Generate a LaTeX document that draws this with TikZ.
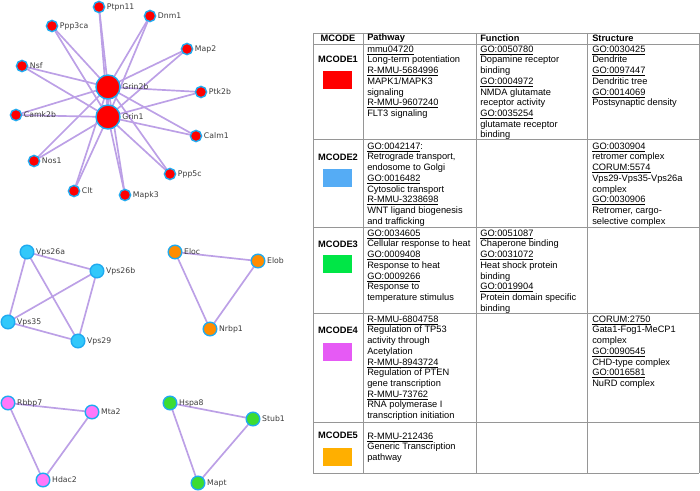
\documentclass[tikz,border=0pt]{standalone}
\usepackage{fontspec}
\setmainfont{Liberation Sans}
\newfontfamily\fuenteetiq{DejaVu Sans}
\usetikzlibrary{backgrounds}

\definecolor{borde}{RGB}{30,170,240}
\definecolor{aristacol}{RGB}{188,160,230}
\definecolor{lineatabla}{RGB}{150,150,150}
\definecolor{textoetiq}{RGB}{60,60,60}
\definecolor{rojo}{RGB}{255,0,0}
\definecolor{azul}{RGB}{50,200,250}
\definecolor{naranja}{RGB}{255,140,0}
\definecolor{rosa}{RGB}{255,120,250}
\definecolor{verde}{RGB}{60,220,50}
\definecolor{mazul}{RGB}{85,172,245}
\definecolor{mverde}{RGB}{0,230,70}
\definecolor{mrosa}{RGB}{230,90,245}
\definecolor{mnaranja}{RGB}{255,175,0}

\newcommand{\codigo}[1]{\underline{#1}}

\tikzset{
    nodo/.style={circle, draw=borde, line width=1pt, inner sep=0pt, minimum size=0.28cm},
    hub/.style={nodo, minimum size=0.6cm},
    nodob/.style={nodo, minimum size=0.34cm},
    etiq/.style={font=\fuenteetiq\fontsize{5.5}{6}\selectfont, text=textoetiq, inner sep=1pt},
    arista/.style={draw=aristacol, line width=1.2pt, line cap=round},
    linea/.style={draw=lineatabla, line width=0.6pt},
    celda/.style={anchor=north west, inner sep=0pt, align=left, font=\fontsize{6.6}{7.6}\selectfont},
    cab/.style={anchor=west, inner sep=0pt, font=\bfseries\fontsize{6.6}{7.6}\selectfont},
    mcode/.style={inner sep=0pt, font=\bfseries\fontsize{6.6}{7.6}\selectfont},
    muestra/.style={minimum width=0.725cm, minimum height=0.45cm, inner sep=0pt}
}

\begin{document}
\begin{tikzpicture}[x=0.025cm, y=-0.025cm]

    \useasboundingbox (0,0) rectangle (700,491);

    % MCODE1
    \node[hub, fill=rojo, label={[etiq]east:Grin2b}] (Grin2b) at (108,87) {};
    \node[hub, fill=rojo, label={[etiq]east:Grin1}] (Grin1) at (108,117) {};
    \foreach \nombre/\x/\y in {
        Ptpn11/99/7, Dnm1/150/16, Ppp3ca/52/26, Map2/187/49,
        Nsf/22/66, Ptk2b/201/92, Camk2b/16/115, Calm1/196/136,
        Nos1/34/161, Ppp5c/170/174, Clt/74/191, Mapk3/125/195%
    } {
        \node[nodo, fill=rojo, label={[etiq]east:\nombre}] (\nombre) at (\x,\y) {};
    }

    % MCODE2 .. MCODE5
    \foreach \nombre/\x/\y/\relleno in {
        Vps26a/27/252/azul, Vps26b/97/271/azul, Vps35/8/322/azul, Vps29/78/341/azul,
        Eloc/175/252/naranja, Elob/258/261/naranja, Nrbp1/210/329/naranja,
        Rbbp7/8/403/rosa, Mta2/92/412/rosa, Hdac2/43/480/rosa,
        Hspa8/170/403/verde, Stub1/253/419/verde, Mapt/198/483/verde%
    } {
        \node[nodob, fill=\relleno, label={[etiq]east:\nombre}] (\nombre) at (\x,\y) {};
    }

    \begin{scope}[on background layer]
        \draw[arista] (Grin2b) -- (Grin1);
        \foreach \nombre in {Ptpn11, Dnm1, Ppp3ca, Map2, Nsf, Ptk2b, Camk2b, Calm1, Nos1, Ppp5c, Clt, Mapk3} {
            \draw[arista] (\nombre) -- (Grin2b);
            \draw[arista] (\nombre) -- (Grin1);
        }
        \foreach \a/\b in {
            Vps26a/Vps26b, Vps26a/Vps35, Vps26a/Vps29, Vps26b/Vps35, Vps26b/Vps29, Vps35/Vps29,
            Eloc/Elob, Eloc/Nrbp1, Elob/Nrbp1,
            Rbbp7/Mta2, Rbbp7/Hdac2, Mta2/Hdac2,
            Hspa8/Stub1, Hspa8/Mapt, Stub1/Mapt%
        } {
            \draw[arista] (\a) -- (\b);
        }
    \end{scope}

    % tabla
    \foreach \y in {33, 44, 139, 227, 313, 422, 473} {
        \draw[linea] (313,\y) -- (699,\y);
    }
    \foreach \x in {313, 363, 476, 587, 699} {
        \draw[linea] (\x,33) -- (\x,473);
    }

    \node[mcode] (cabMcode) at (338,38.5) {MCODE};
    \node[cab] (cabPath) at (367,38.5) {Pathway};
    \node[cab] (cabFunc) at (480,38.5) {Function};
    \node[cab] (cabStruct) at (592,38.5) {Structure};

    \foreach \i/\y/\ym/\relleno in {1/59/80/rojo, 2/157/178/mazul, 3/244/264/mverde, 4/330/352.5/mrosa, 5/435/457/mnaranja} {
        \node[mcode] (mcode\i) at (338,\y) {MCODE\i};
        \node[muestra, fill=\relleno] (muestra\i) at (337.5,\ym) {};
    }

    \node[celda] (path1) at (367,45.5) {\codigo{mmu04720}\\Long-term potentiation\\\codigo{R-MMU-5684996}\\MAPK1/MAPK3\\signaling\\\codigo{R-MMU-9607240}\\FLT3 signaling};
    \node[celda] (func1) at (480,45.5) {\codigo{GO:0050780}\\Dopamine receptor\\binding\\\codigo{GO:0004972}\\NMDA glutamate\\receptor activity\\\codigo{GO:0035254}\\glutamate receptor\\binding};
    \node[celda] (struct1) at (592,45.5) {\codigo{GO:0030425}\\Dendrite\\\codigo{GO:0097447}\\Dendritic tree\\\codigo{GO:0014069}\\Postsynaptic density};

    \node[celda] (path2) at (367,142.5) {\codigo{GO:0042147}:\\Retrograde transport,\\endosome to Golgi\\\codigo{GO:0016482}\\Cytosolic transport\\\codigo{R-MMU-3238698}\\WNT ligand biogenesis\\and trafficking};
    \node[celda] (struct2) at (592,142.5) {\codigo{GO:0030904}\\retromer complex\\\codigo{CORUM:5574}\\Vps29-Vps35-Vps26a\\complex\\\codigo{GO:0030906}\\Retromer, cargo-\\selective complex};

    \node[celda] (path3) at (367,229.5) {\codigo{GO:0034605}\\Cellular response to heat\\\codigo{GO:0009408}\\Response to heat\\\codigo{GO:0009266}\\Response to\\temperature stimulus};
    \node[celda] (func3) at (480,229.5) {\codigo{GO:0051087}\\Chaperone binding\\\codigo{GO:0031072}\\Heat shock protein\\binding\\\codigo{GO:0019904}\\Protein domain specific\\binding};

    \node[celda] (path4) at (367,315.5) {\codigo{R-MMU-6804758}\\Regulation of TP53\\activity through\\Acetylation\\\codigo{R-MMU-8943724}\\Regulation of PTEN\\gene transcription\\\codigo{R-MMU-73762}\\RNA polymerase I\\transcription initiation};
    \node[celda] (struct4) at (592,315.5) {\codigo{CORUM:2750}\\Gata1-Fog1-MeCP1\\complex\\\codigo{GO:0090545}\\CHD-type complex\\\codigo{GO:0016581}\\NuRD complex};

    \node[celda] (path5) at (367,432.5) {\codigo{R-MMU-212436}\\Generic Transcription\\pathway};

\end{tikzpicture}
\end{document}
